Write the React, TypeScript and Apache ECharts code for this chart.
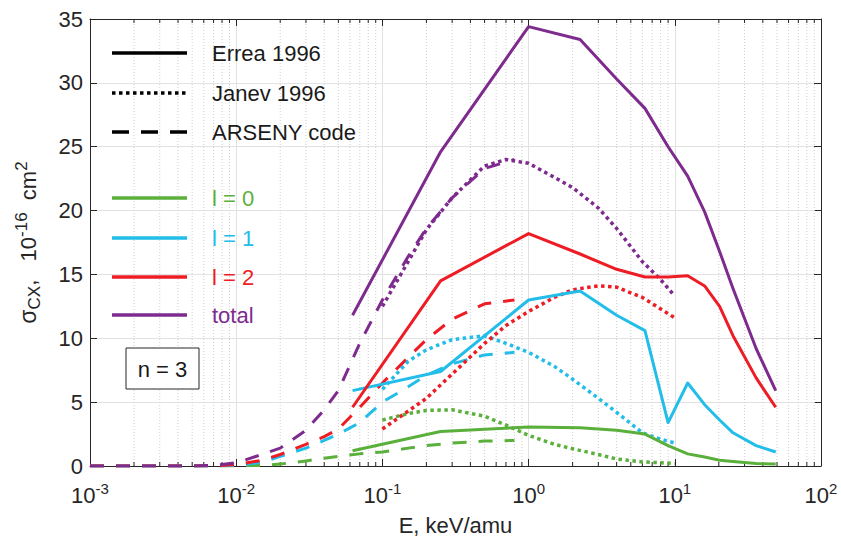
import React, { useEffect, useRef } from "react";
import * as echarts from "echarts";

// ---------- data ----------
const xTickExponents = [-3, -2, -1, 0, 1, 2];
const yTicks = [0, 5, 10, 15, 20, 25, 30, 35];
const minorDecades = [0.001, 0.01, 0.1, 1, 10];
const minorMultipliers = [2, 3, 4, 5, 6, 7, 8, 9];

// Errea 1996 (solid)
const E_ERREA = [0.0625, 0.25, 1, 2.25, 4, 6.25, 9, 12.25, 16, 20.25, 25, 36, 49];
const errea_l0 = [1.2, 2.7, 3.05, 3.0, 2.8, 2.5, 1.6, 0.95, 0.7, 0.45, 0.35, 0.2, 0.15];
const errea_l1 = [5.9, 7.4, 13.0, 13.7, 11.8, 10.6, 3.4, 6.5, 4.8, 3.6, 2.6, 1.6, 1.1];
const errea_l2 = [4.6, 14.5, 18.2, 16.6, 15.4, 14.8, 14.8, 14.9, 14.1, 12.5, 10.2, 6.9, 4.6];
const errea_total = [11.8, 24.6, 34.4, 33.4, 30.3, 28.0, 25.0, 22.7, 19.9, 16.8, 13.9, 9.2, 5.9];

// Janev 1996 (dotted)
const E_JANEV = [0.1, 0.15, 0.2, 0.3, 0.5, 0.7, 1, 1.5, 2, 3, 4, 6, 8, 10];
const janev_l0 = [3.6, 4.1, 4.35, 4.4, 3.9, 3.2, 2.4, 1.7, 1.35, 0.9, 0.55, 0.32, 0.25, 0.2];
const janev_l1 = [6.0, 8.2, 9.1, 9.9, 10.2, 9.6, 8.9, 7.8, 6.8, 5.3, 4.2, 2.6, 2.1, 1.8];
const janev_l2 = [2.9, 4.3, 5.3, 7.2, 9.6, 11.0, 12.1, 13.2, 13.8, 14.1, 14.0, 13.2, 12.3, 11.6];
const janev_total = [12.5, 16.0, 18.5, 21.0, 23.5, 24.0, 23.7, 22.6, 21.8, 20.2, 18.6, 16.0, 14.6, 13.3];

// ARSENY code (dashed)
const E_ARS = [0.001, 0.002, 0.003, 0.005, 0.007, 0.01, 0.015, 0.02, 0.03, 0.04, 0.05, 0.07, 0.1, 0.15, 0.2, 0.3, 0.5, 0.8];
const ars_l0 = [0, 0, 0, 0, 0, 0.02, 0.05, 0.15, 0.4, 0.6, 0.75, 0.95, 1.1, 1.4, 1.6, 1.8, 1.95, 2.0];
const ars_l1 = [0, 0, 0, 0, 0.01, 0.05, 0.3, 0.75, 1.4, 2.0, 2.5, 3.4, 5.0, 6.2, 7.1, 8.0, 8.7, 8.9];
const ars_l2 = [0, 0, 0, 0, 0.02, 0.1, 0.45, 0.9, 1.7, 2.3, 2.9, 4.6, 6.5, 8.5, 9.9, 11.5, 12.7, 13.0];
const ars_total = [0, 0, 0, 0, 0.05, 0.25, 0.9, 1.4, 2.8, 4.4, 5.9, 9.6, 13.0, 16.4, 18.6, 21.0, 23.3, 24.0];

const GREEN = "#5bb03c";
const CYAN = "#22bde9";
const RED = "#ee1c25";
const PURPLE = "#7e2b8e";
const FONT = "Liberation Sans, Arial, sans-serif";
const AXIS = "#262626";

const zip = (xs: number[], ys: number[]) => xs.map((x, i) => [x, ys[i]]);

const DOT = [3.5, 3.5];
const DASH = [14, 12];

function lineSeries(name: string, xs: number[], ys: number[], color: string, type: any, z: number) {
  const dotted = Array.isArray(type) && type === DOT;
  return {
    name,
    type: "line",
    data: zip(xs, ys),
    showSymbol: false,
    symbol: "none",
    silent: true,
    z,
    lineStyle: { color, width: dotted ? 3.5 : 3, type, cap: "butt", join: "round" },
  };
}

export default function App() {
  const ref = useRef<HTMLDivElement>(null);
  useEffect(() => {
    if (!ref.current) return;
    const chart = echarts.init(ref.current, undefined, { renderer: "svg" });
    const minorTicks: number[][] = [];
    minorDecades.forEach((d) => minorMultipliers.forEach((m) => minorTicks.push([d * m, 0])));

    const supRich = {
      b: { fontSize: 22, fontFamily: FONT, color: AXIS, lineHeight: 28 },
      sup: { fontSize: 15, fontFamily: FONT, color: AXIS, lineHeight: 16, verticalAlign: "top" },
    };

    const option: any = {
      animation: false,
      backgroundColor: "#ffffff",
      grid: { left: 90, right: 20, top: 19, bottom: 72, show: false },
      xAxis: [
        {
          type: "log",
          logBase: 10,
          min: 0.001,
          max: 100,
          position: "bottom",
          name: "E, keV/amu",
          nameLocation: "middle",
          nameGap: 48,
          nameTextStyle: { fontSize: 22, fontFamily: FONT, color: AXIS },
          axisLine: { show: true, onZero: false, lineStyle: { color: AXIS, width: 1 } },
          axisTick: { show: true, inside: true, length: 7, lineStyle: { color: AXIS } },
          axisLabel: {
            margin: 15,
            formatter: (v: number) => {
              const e = Math.round(Math.log10(v));
              const idx = xTickExponents.indexOf(e);
              return `{b|10}{sup|${idx >= 0 ? xTickExponents[idx] : e}}`;
            },
            rich: supRich,
          },
          splitLine: { show: true, lineStyle: { color: "#e2e2e2", width: 1 } },
        },
        {
          type: "log",
          logBase: 10,
          min: 0.001,
          max: 100,
          position: "top",
          axisLine: { show: true, onZero: false, lineStyle: { color: AXIS, width: 1 } },
          axisTick: { show: true, inside: true, length: 7, lineStyle: { color: AXIS } },
          axisLabel: { show: false },
          splitLine: { show: false },
        },
      ],
      yAxis: [
        {
          type: "value",
          min: yTicks[0],
          max: yTicks[yTicks.length - 1],
          interval: 5,
          position: "left",
          name: "{s|σ}{sub|CX}{n|,   10}{sup|-16}{n|  cm}{sup|2}",
          nameLocation: "middle",
          nameRotate: 90,
          nameGap: 47,
          nameTextStyle: {
            rich: {
              s: { fontSize: 23, fontFamily: FONT, color: AXIS, lineHeight: 30 },
              n: { fontSize: 22, fontFamily: FONT, color: AXIS, lineHeight: 30 },
              sub: { fontSize: 17, fontFamily: FONT, color: AXIS, lineHeight: 17, verticalAlign: "bottom" },
              sup: { fontSize: 17, fontFamily: FONT, color: AXIS, lineHeight: 17, verticalAlign: "top" },
            },
          },
          axisLine: { show: true, onZero: false, lineStyle: { color: AXIS, width: 1 } },
          axisTick: { show: true, inside: true, length: 7, lineStyle: { color: AXIS } },
          axisLabel: { margin: 7, fontSize: 22, fontFamily: FONT, color: AXIS },
          splitLine: { show: true, lineStyle: { color: "#e2e2e2", width: 1 } },
        },
        {
          type: "value",
          min: yTicks[0],
          max: yTicks[yTicks.length - 1],
          interval: 5,
          position: "right",
          axisLine: { show: true, onZero: false, lineStyle: { color: AXIS, width: 1 } },
          axisTick: { show: true, inside: true, length: 7, lineStyle: { color: AXIS } },
          axisLabel: { show: false },
          splitLine: { show: false },
        },
      ],
      series: [
        {
          type: "custom",
          silent: true,
          z: 1,
          data: minorTicks,
          encode: { x: 0, y: 1 },
          clip: false,
          renderItem: (params: any, api: any) => {
            const x = api.value(0);
            const b = api.coord([x, yTicks[0]]);
            const t = api.coord([x, yTicks[yTicks.length - 1]]);
            return {
              type: "group",
              children: [
                {
                  type: "line",
                  shape: { x1: b[0], y1: b[1], x2: t[0], y2: t[1] },
                  style: { stroke: "#cfcfcf", lineWidth: 1, lineDash: [1, 2] },
                },
                {
                  type: "line",
                  shape: { x1: b[0], y1: b[1], x2: b[0], y2: b[1] - 4 },
                  style: { stroke: AXIS, lineWidth: 1 },
                },
                {
                  type: "line",
                  shape: { x1: t[0], y1: t[1], x2: t[0], y2: t[1] + 4 },
                  style: { stroke: AXIS, lineWidth: 1 },
                },
              ],
            };
          },
        },
        lineSeries("ARSENY l=0", E_ARS, ars_l0, GREEN, DASH, 3),
        lineSeries("ARSENY l=1", E_ARS, ars_l1, CYAN, DASH, 3),
        lineSeries("ARSENY l=2", E_ARS, ars_l2, RED, DASH, 3),
        lineSeries("ARSENY total", E_ARS, ars_total, PURPLE, DASH, 3),
        lineSeries("Janev l=0", E_JANEV, janev_l0, GREEN, DOT, 4),
        lineSeries("Janev l=1", E_JANEV, janev_l1, CYAN, DOT, 4),
        lineSeries("Janev l=2", E_JANEV, janev_l2, RED, DOT, 4),
        lineSeries("Janev total", E_JANEV, janev_total, PURPLE, DOT, 4),
        lineSeries("Errea l=0", E_ERREA, errea_l0, GREEN, "solid", 5),
        lineSeries("Errea l=1", E_ERREA, errea_l1, CYAN, "solid", 5),
        lineSeries("Errea l=2", E_ERREA, errea_l2, RED, "solid", 5),
        lineSeries("Errea total", E_ERREA, errea_total, PURPLE, "solid", 5),
      ],
      graphic: [
        // style legend
        { type: "line", shape: { x1: 112, y1: 53, x2: 187, y2: 53 }, style: { stroke: "#000", lineWidth: 3.5 }, z: 10 },
        { type: "text", x: 212, y: 53, style: { text: "Errea 1996", fontSize: 22, fontFamily: FONT, fill: "#1a1a1a", verticalAlign: "middle" }, z: 10 },
        { type: "line", shape: { x1: 112, y1: 93, x2: 187, y2: 93 }, style: { stroke: "#000", lineWidth: 3.5, lineDash: [3.5, 3.5] }, z: 10 },
        { type: "text", x: 212, y: 93, style: { text: "Janev 1996", fontSize: 22, fontFamily: FONT, fill: "#1a1a1a", verticalAlign: "middle" }, z: 10 },
        { type: "line", shape: { x1: 112, y1: 132, x2: 187, y2: 132 }, style: { stroke: "#000", lineWidth: 3.5, lineDash: [17, 12] }, z: 10 },
        { type: "text", x: 212, y: 132, style: { text: "ARSENY code", fontSize: 22, fontFamily: FONT, fill: "#1a1a1a", verticalAlign: "middle" }, z: 10 },
        // colour legend
        { type: "line", shape: { x1: 112, y1: 198, x2: 187, y2: 198 }, style: { stroke: GREEN, lineWidth: 3.5 }, z: 10 },
        { type: "text", x: 212, y: 198, style: { text: "l = 0", fontSize: 22, fontFamily: FONT, fill: GREEN, verticalAlign: "middle" }, z: 10 },
        { type: "line", shape: { x1: 112, y1: 238, x2: 187, y2: 238 }, style: { stroke: CYAN, lineWidth: 3.5 }, z: 10 },
        { type: "text", x: 212, y: 238, style: { text: "l = 1", fontSize: 22, fontFamily: FONT, fill: CYAN, verticalAlign: "middle" }, z: 10 },
        { type: "line", shape: { x1: 112, y1: 277, x2: 187, y2: 277 }, style: { stroke: RED, lineWidth: 3.5 }, z: 10 },
        { type: "text", x: 212, y: 277, style: { text: "l = 2", fontSize: 22, fontFamily: FONT, fill: RED, verticalAlign: "middle" }, z: 10 },
        { type: "line", shape: { x1: 112, y1: 315, x2: 187, y2: 315 }, style: { stroke: PURPLE, lineWidth: 3.5 }, z: 10 },
        { type: "text", x: 212, y: 315, style: { text: "total", fontSize: 22, fontFamily: FONT, fill: PURPLE, verticalAlign: "middle" }, z: 10 },
        // n = 3 box
        { type: "rect", shape: { x: 126, y: 348, width: 73, height: 41 }, style: { fill: "#fff", stroke: AXIS, lineWidth: 1 }, z: 10 },
        { type: "text", x: 162.5, y: 369, style: { text: "n = 3", fontSize: 22, fontFamily: FONT, fill: "#1a1a1a", align: "center", verticalAlign: "middle" }, z: 11 },
      ],
    };
    chart.setOption(option);
    return () => chart.dispose();
  }, []);
  return (
    <div
      ref={ref}
      style={{ position: "fixed", left: 0, top: 0, width: 841, height: 541, background: "#fff" }}
    />
  );
}
